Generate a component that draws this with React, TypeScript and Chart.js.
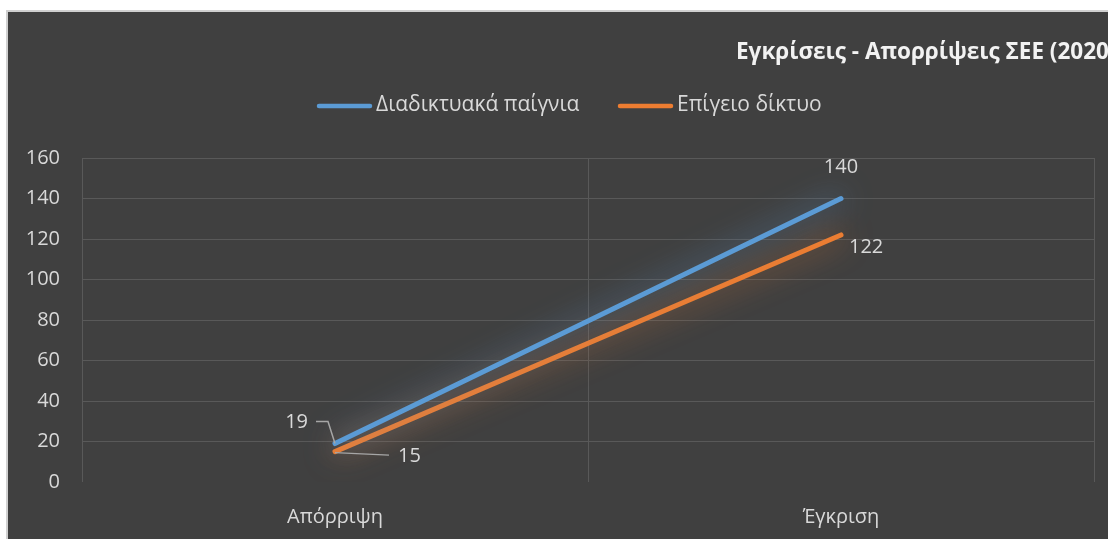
import React, { useEffect, useRef } from "react";
import { Chart, registerables } from "chart.js";

Chart.register(...registerables);

const categories = ["Απόρριψη", "Έγκριση"];
const seriesNames = ["Διαδικτυακά παίγνια", "Επίγειο δίκτυο"];
const onlineGames = [19, 140];
const terrestrialNet = [15, 122];
const yTicks = [0, 20, 40, 60, 80, 100, 120, 140, 160];
const titleText = "Εγκρίσεις - Απορρίψεις ΣΕΕ (2020)";

const BLUE = "#5B9BD5";
const ORANGE = "#ED7D31";
const GLOW = ["rgba(91,155,213,0.85)", "rgba(237,125,49,0.85)"];
const TEXT = "#d9d9d9";
const FONT = "'Open Sans', 'Noto Sans', sans-serif";

const glowPlugin = {
  id: "glow",
  beforeDatasetDraw(chart: any, args: any) {
    const ctx = chart.ctx;
    ctx.save();
    ctx.shadowColor = GLOW[args.index];
    ctx.shadowBlur = 30;
  },
  afterDatasetDraw(chart: any) {
    chart.ctx.restore();
  },
};

const decorPlugin = {
  id: "decor",
  afterDatasetsDraw(chart: any) {
    const ctx = chart.ctx;
    const m0 = chart.getDatasetMeta(0).data;
    const m1 = chart.getDatasetMeta(1).data;
    ctx.save();
    ctx.font = `20px ${FONT}`;
    ctx.fillStyle = TEXT;
    ctx.textBaseline = "middle";
    ctx.strokeStyle = "#a6a6a6";
    ctx.lineWidth = 1.5;
    const a = m0[0];
    ctx.beginPath();
    ctx.moveTo(a.x - 19, a.y - 22);
    ctx.lineTo(a.x - 7, a.y - 22);
    ctx.lineTo(a.x, a.y);
    ctx.stroke();
    const b = m1[0];
    ctx.beginPath();
    ctx.moveTo(b.x, b.y + 1);
    ctx.lineTo(b.x + 54, b.y + 3.5);
    ctx.stroke();
    ctx.textAlign = "right";
    ctx.fillText(String(onlineGames[0]), a.x - 27, a.y - 21);
    ctx.textAlign = "left";
    ctx.fillText(String(terrestrialNet[0]), b.x + 63, b.y + 5);
    const c = m0[1];
    ctx.textAlign = "center";
    ctx.fillText(String(onlineGames[1]), c.x, c.y - 31);
    const d = m1[1];
    ctx.textAlign = "left";
    ctx.fillText(String(terrestrialNet[1]), d.x + 8, d.y + 12);
    ctx.restore();
  },
  afterDraw(chart: any) {
    const ctx = chart.ctx;
    ctx.save();
    ctx.font = `bold 22.5px ${FONT}`;
    ctx.fillStyle = "#f2f2f2";
    ctx.textBaseline = "middle";
    ctx.textAlign = "left";
    ctx.fillText(titleText, 728, 41);
    ctx.font = `21px ${FONT}`;
    ctx.fillStyle = TEXT;
    ctx.lineCap = "round";
    ctx.lineWidth = 4.5;
    const items = [
      { x: 311, color: BLUE, label: seriesNames[0] },
      { x: 612, color: ORANGE, label: seriesNames[1] },
    ];
    items.forEach((it) => {
      ctx.strokeStyle = it.color;
      ctx.beginPath();
      ctx.moveTo(it.x, 94);
      ctx.lineTo(it.x + 51, 94);
      ctx.stroke();
      ctx.fillText(it.label, it.x + 57, 93);
    });
    ctx.restore();
  },
};

export default function App() {
  const ref = useRef<HTMLCanvasElement>(null);
  useEffect(() => {
    if (!ref.current) return;
    const chart = new Chart(ref.current, {
      type: "line",
      data: {
        labels: categories,
        datasets: [
          {
            label: seriesNames[0],
            data: onlineGames,
            borderColor: BLUE,
            borderWidth: 5,
            pointRadius: 0,
            borderCapStyle: "round",
            fill: false,
          },
          {
            label: seriesNames[1],
            data: terrestrialNet,
            borderColor: ORANGE,
            borderWidth: 5,
            pointRadius: 0,
            borderCapStyle: "round",
            fill: false,
          },
        ],
      },
      options: {
        animation: false,
        responsive: false,
        maintainAspectRatio: false,
        layout: { padding: { top: 146, right: 14, left: 0, bottom: 0 } },
        plugins: {
          legend: { display: false },
          tooltip: { enabled: false },
          title: { display: false },
        },
        scales: {
          x: {
            offset: true,
            grid: { color: "#595959", lineWidth: 1, drawTicks: false, offset: true },
            border: { display: false },
            ticks: { color: TEXT, font: { family: FONT, size: 20 }, padding: 23 },
            afterFit(scale: any) {
              scale.height = 57;
            },
          },
          y: {
            min: 0,
            max: 160,
            afterBuildTicks(scale: any) {
              scale.ticks = yTicks.map((v) => ({ value: v }));
            },
            grid: {
              color: (c: any) => (c.tick && c.tick.value === 0 ? "rgba(0,0,0,0)" : "#595959"),
              lineWidth: 1,
              drawTicks: false,
            },
            border: { display: false },
            ticks: { color: TEXT, font: { family: FONT, size: 20 }, padding: 22 },
            afterFit(scale: any) {
              scale.width = 74;
            },
          },
        },
      },
      plugins: [glowPlugin, decorPlugin],
    });
    return () => chart.destroy();
  }, []);

  return (
    <div
      style={{
        position: "absolute",
        left: 0,
        top: 0,
        width: 1108,
        height: 539,
        overflow: "hidden",
        background: "#ffffff",
      }}
    >
      <div
        style={{
          position: "absolute",
          left: 6,
          top: 10,
          width: 1110,
          height: 540,
          border: "2px solid #d0d0d0",
          background: "#404040",
        }}
      />
      <canvas
        ref={ref}
        width={1100}
        height={527}
        style={{ position: "absolute", left: 8, top: 12, width: 1100, height: 527 }}
      />
    </div>
  );
}
